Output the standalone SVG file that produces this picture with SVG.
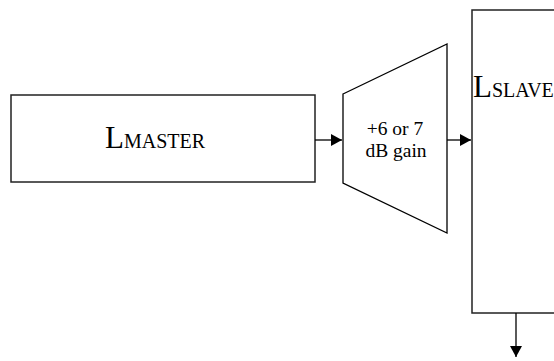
<svg xmlns="http://www.w3.org/2000/svg" width="554" height="361" viewBox="0 0 554 361">
  <style>
    .box { fill: #fff; stroke: #222; stroke-width: 1.5; }
    .amp { fill: #fff; stroke: #000; stroke-width: 1.3; }
    .wire { fill: none; stroke: #000; stroke-width: 1.3; }
    .big { font-family: "Liberation Serif", "Times New Roman", serif; font-size: 31px; fill: #000; }
    .sub { font-size: 20px; }
    .lbl { font-family: "Liberation Serif", "Times New Roman", serif; font-size: 19.5px; fill: #000; text-anchor: middle; }
  </style>
  <defs>
    <marker id="arrow" markerWidth="12" markerHeight="12" refX="11" refY="6" orient="auto" markerUnits="userSpaceOnUse">
      <path d="M0,0 L11,6 L0,12 Z" fill="#000"/>
    </marker>
  </defs>

  <rect width="554" height="361" fill="#fff"/>

  <g id="master">
    <rect class="box" x="11" y="95" width="304" height="87"/>
    <text class="big" x="105" y="148">L<tspan class="sub">MASTER</tspan></text>
  </g>

  <g id="gain">
    <polygon class="amp" points="343,94 447,44 447,233 343,183"/>
    <text class="lbl" x="395" y="135">+6 or 7</text>
    <text class="lbl" x="396" y="157">dB gain</text>
  </g>

  <g id="slave">
    <rect class="box" x="472" y="10" width="100" height="303"/>
    <text class="big" x="473" y="97">L<tspan class="sub">SLAVE</tspan></text>
  </g>

  <g id="connectors">
    <line class="wire" x1="315" y1="140" x2="342" y2="140" marker-end="url(#arrow)"/>
    <line class="wire" x1="447" y1="140" x2="471" y2="140" marker-end="url(#arrow)"/>
    <line class="wire" x1="516" y1="313" x2="516" y2="357" marker-end="url(#arrow)"/>
  </g>
</svg>
